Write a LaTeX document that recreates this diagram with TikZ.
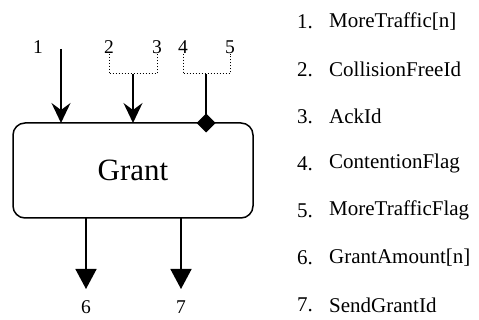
\documentclass[tikz,border=0pt]{standalone}
\usepackage{fontspec}
\setmainfont{Liberation Serif}
\usetikzlibrary{arrows.meta}
\begin{document}
\begin{tikzpicture}[x=1pt,y=-1pt,
  lbl/.style={inner sep=0pt,font=\fontsize{19.5}{22}\selectfont},
  listnum/.style={inner sep=0pt,anchor=west,font=\fontsize{21}{24}\selectfont},
  listtxt/.style={inner sep=0pt,anchor=west,font=\fontsize{21}{24}\selectfont},
  wire/.style={line width=1.5pt},
  dots/.style={line width=1pt,dotted},
  inarrow/.style={wire,-{Stealth[length=20pt,width=19pt,inset=7pt]}},
  outarrow/.style={wire,-{Triangle[length=20pt,width=21pt]}},
  block/.style={draw,line width=1.5pt,rounded corners=12pt,minimum width=240pt,minimum height=95pt,inner sep=0pt,font=\fontsize{31}{36}\selectfont}
]
\useasboundingbox (0,0) rectangle (479,320);
\node[block] (grant) at (133,170.5) {Grant};
% input labels
\node[lbl] (l1) at (38,47) {1};
\node[lbl] (l2) at (109,47) {2};
\node[lbl] (l3) at (157,47) {3};
\node[lbl] (l4) at (183,47) {4};
\node[lbl] (l5) at (230,47) {5};
% coordinates
\coordinate (s1) at (61,49);
\coordinate (e1) at (61,123);
\coordinate (b23) at (133,74);
\coordinate (e23) at (133,123);
\coordinate (b45) at (206,74);
\coordinate (e45) at (206,123);
\coordinate (o6) at (86,218);
\coordinate (t6) at (86,289);
\coordinate (o7) at (181,218);
\coordinate (t7) at (181,289);
% arrows
\draw[inarrow] (s1) -- (e1);
\draw[dots] (l2.south) -- (l2.south |- b23) -- (l3.south |- b23) -- (l3.south);
\draw[inarrow] (b23) -- (e23);
\draw[dots] (l4.south) -- (l4.south |- b45) -- (l5.south |- b45) -- (l5.south);
\draw[wire] (b45) -- (e45);
\fill (e45) ++(-9.5,0) -- ++(9.5,-9.5) -- ++(9.5,9.5) -- ++(-9.5,9.5) -- cycle;
\draw[outarrow] (o6) -- (t6);
\draw[outarrow] (o7) -- (t7);
\node[lbl] (l6) at (86,307) {6};
\node[lbl] (l7) at (181,307) {7};
% list
\foreach \i/\t [count=\k from 0] in {1/MoreTraffic[n],2/CollisionFreeId,3/AckId,4/ContentionFlag,5/MoreTrafficFlag,6/GrantAmount[n],7/SendGrantId}{
  \node[listnum] (n\i) at (297,{22+47.2*\k}) {\i.};
  \node[listtxt] (t\i) at (329,{22+47.2*\k}) {\t};
}
\end{tikzpicture}
\end{document}
